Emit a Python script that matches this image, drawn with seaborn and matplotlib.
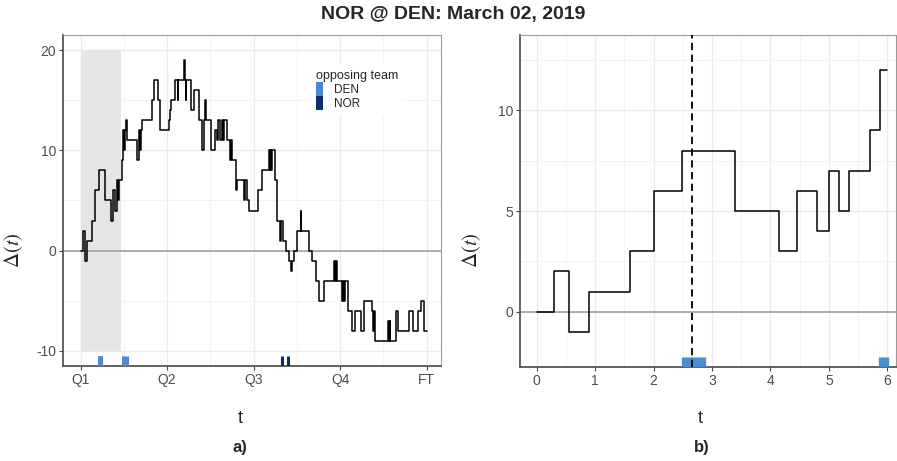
import numpy as np
import pandas as pd
import matplotlib
matplotlib.use("Agg")
import matplotlib.pyplot as plt
import seaborn as sns
from matplotlib.patches import Patch

# ---------------- data ----------------
event_time = [0.00, 0.29, 0.55, 0.89, 1.60, 2.00, 2.49, 3.39, 4.14, 4.46, 4.79, 5.00, 5.18, 5.35, 5.71, 5.87,
              6.05, 6.15, 6.25, 6.40, 7.88, 8.11, 8.25, 8.35, 8.57, 9.87, 10.15, 10.66, 11.03,
              12.25, 12.35, 12.56, 13.11, 13.45, 13.55, 14.27, 14.45, 14.55, 14.65,
              15.30, 15.76, 16.36, 16.83, 17.06, 17.29, 17.45,
              18.13, 18.68, 18.90, 19.05, 19.38, 19.55, 19.75, 19.90,
              20.30, 20.77, 20.90, 21.00, 21.50, 21.70,
              22.62, 22.85, 23.05, 23.40, 24.60, 25.20,
              26.10, 26.20, 26.30, 26.40, 26.50, 26.93,
              27.30, 27.60, 27.75, 28.00, 28.45, 28.90, 29.20, 29.35, 29.58,
              30.04, 30.50, 30.60, 31.66, 32.13, 32.59, 33.00, 33.75,
              35.13, 35.25, 35.35, 35.50,
              36.30, 36.45, 36.55, 36.70, 37.13, 37.60, 38.06, 38.85, 39.30,
              40.46, 40.60, 40.70, 40.84,
              42.65, 42.80, 42.85, 42.93,
              43.72, 44.04, 45.57, 46.04, 46.73, 47.20, 47.66]
score_diff = [0, 2, -1, 1, 3, 6, 8, 5, 3, 6, 4, 7, 5, 7, 9, 12,
              10, 12, 13, 11, 9, 12, 10, 12, 13, 15, 17, 15, 12,
              13, 14, 15, 17, 15, 17, 19, 17, 15, 17,
              14, 16, 13, 10, 13, 15, 13,
              10, 12, 11, 13, 11, 13, 11, 13,
              11, 9, 11, 9, 6, 7,
              5, 7, 5, 4, 6, 8,
              10, 8, 10, 8, 10, 7,
              3, 1, 3, 1, 0, -1, -2, -1, 0,
              2, 4, 2, 0, -1, -3, -5, -3,
              -1, -3, -1, -3,
              -5, -3, -5, -3, -6, -8, -6, -8, -5,
              -6, -8, -6, -9,
              -7, -9, -7, -9,
              -6, -8, -6, -8, -6, -5, -8]
den_rug_time = [2.52, 2.60, 2.68, 2.76, 2.84, 5.90, 5.98, 6.40]
nor_rug_time = [27.95, 28.75]
highlight_time = 2.65
zoom_window = [0.0, 5.56]
shade_range = [-10, 20]
game_end = 48.0
zoom_end = 6.0
quarter_ticks = [0, 12, 24, 36, 48]
quarter_labels = ["Q1", "Q2", "Q3", "Q4", "FT"]
teams = ["DEN", "NOR"]
team_colors = ["#4A8CCF", "#08306B"]
title = "NOR @ DEN: March 02, 2019"

# ---------------- frames ----------------
full = pd.DataFrame({"t": event_time + [game_end], "d": score_diff + [score_diff[-1]]})
zt = [t for t in event_time if t < zoom_end]
zd = score_diff[:len(zt)]
zoom = pd.DataFrame({"t": zt + [zoom_end], "d": zd + [zd[-1]]})

# ---------------- style ----------------
sns.set_theme(style="white")
plt.rcParams["font.family"] = ["Liberation Sans", "DejaVu Sans"]
plt.rcParams["mathtext.fontset"] = "stix"
plt.rcParams["axes.unicode_minus"] = False

W, H = 897, 461
fig = plt.figure(figsize=(W / 100, H / 100), dpi=100)

def px_axes(x0, y0, x1, y1):
    return fig.add_axes([x0 / W, 1 - y1 / H, (x1 - x0) / W, (y1 - y0) / H])

ax1 = px_axes(63.3, 35, 440.7, 366)
ax2 = px_axes(520, 35, 896, 366.7)

def style_axes(ax):
    ax.set_axisbelow(True)
    ax.grid(which="major", color="#EBEBEB", lw=1.0, zorder=0)
    ax.grid(which="minor", color="#F3F3F3", lw=0.7, zorder=0)
    ax.tick_params(which="major", direction="out", length=3, width=0.8,
                   color="#444444", labelsize=10, labelcolor="#4D4D4D", pad=2,
                   bottom=True, left=True)
    ax.tick_params(which="minor", length=0)
    for s in ["left", "bottom"]:
        ax.spines[s].set_color("#555555")
        ax.spines[s].set_linewidth(1.3)
    for s in ["top", "right"]:
        ax.spines[s].set_color("#9A9A9A")
        ax.spines[s].set_linewidth(0.8)

# ---------------- left panel ----------------
style_axes(ax1)
ax1.fill_between(zoom_window, shade_range[0], shade_range[1], color="#E5E5E5", lw=0, zorder=1)
ax1.axhline(0, color="#A8A8A8", lw=1.3, zorder=1.5)
sns.lineplot(data=full, x="t", y="d", ax=ax1, drawstyle="steps-post", color="black",
             lw=1.1, estimator=None, sort=False, zorder=3)
ax1.vlines(den_rug_time, 0, 0.03, transform=ax1.get_xaxis_transform(), color=team_colors[0], lw=2.2, zorder=3)
ax1.vlines(nor_rug_time, 0, 0.03, transform=ax1.get_xaxis_transform(), color=team_colors[1], lw=2.2, zorder=3)
ax1.set_xlim(-2.41, 49.94)
ax1.set_ylim(-11.5, 21.5)
ax1.set_xticks(quarter_ticks)
ax1.set_xticklabels(quarter_labels)
ax1.set_xticks([6, 18, 30, 42], minor=True)
ax1.set_yticks([-10, 0, 10, 20])
ax1.set_yticks([-5, 5, 15], minor=True)
ax1.set_xlabel("t", fontsize=13)
ax1.set_ylabel(r"$\Delta(t)$", fontsize=15)
ax1.xaxis.set_label_coords((240 - 63.3) / 377.4, (366 - 410) / 331)
ax1.yaxis.set_label_coords((25 - 63.3) / 377.4, (366 - 250) / 331)
handles = [Patch(facecolor=c, edgecolor="none", label=t) for t, c in zip(teams, team_colors)]
leg = ax1.legend(handles=handles, title="opposing team", loc="upper left",
                 bbox_to_anchor=(0.655, 0.91), frameon=True, facecolor="white",
                 edgecolor="none", framealpha=1, fontsize=8.5, title_fontsize=9,
                 handlelength=0.6, handleheight=1.45, labelspacing=0.0,
                 borderpad=0.45, handletextpad=0.9, alignment="left", borderaxespad=0)
leg.get_frame().set_linewidth(0)

# ---------------- right panel ----------------
style_axes(ax2)
ax2.axhline(0, color="#A8A8A8", lw=1.3, zorder=1.5)
sns.lineplot(data=zoom, x="t", y="d", ax=ax2, drawstyle="steps-post", color="black",
             lw=1.1, estimator=None, sort=False, zorder=3)
ax2.vlines(den_rug_time, 0, 0.03, transform=ax2.get_xaxis_transform(), color=team_colors[0], lw=3.8, zorder=3)
ax2.vlines(nor_rug_time, 0, 0.03, transform=ax2.get_xaxis_transform(), color=team_colors[1], lw=3.8, zorder=3)
ax2.axvline(highlight_time, color="black", lw=1.3, ls=(0, (4, 2.5)), zorder=4)
ax2.set_xlim(-0.286, 6.15)
ax2.set_ylim(-2.73, 13.74)
ax2.set_xticks(range(0, 7))
ax2.set_xticks(np.arange(0.5, 6.5, 1.0), minor=True)
ax2.set_yticks([0, 5, 10])
ax2.set_yticks([2.5, 7.5, 12.5], minor=True)
ax2.set_xlabel("t", fontsize=13)
ax2.set_ylabel(r"$\Delta(t)$", fontsize=15)
ax2.xaxis.set_label_coords((700 - 520) / 376, (366.7 - 410) / 331.7)
ax2.yaxis.set_label_coords((483 - 520) / 376, (366.7 - 250) / 331.7)

# ---------------- texts ----------------
fig.text(453 / W, 1 - 14 / H, title, ha="center", va="center", fontsize=14, weight="bold")
fig.text(240 / W, 1 - 447 / H, "a)", ha="center", va="center", fontsize=12, weight="bold")
fig.text(702 / W, 1 - 447 / H, "b)", ha="center", va="center", fontsize=12, weight="bold")

fig.savefig("out.png", dpi=100)
